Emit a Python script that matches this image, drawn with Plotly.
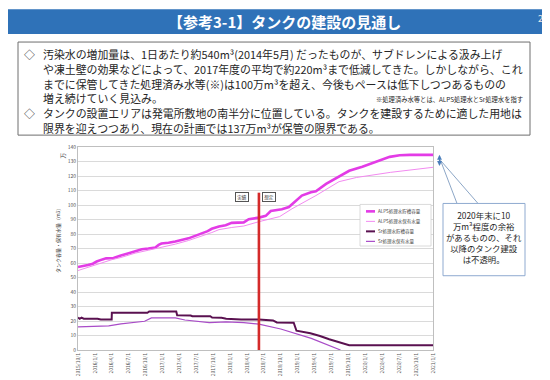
import plotly.graph_objects as go
import pandas as pd

# ---------------- data ----------------
alps_cap_dates = ["2015-10-01","2015-10-20","2015-11-24","2015-12-20","2016-01-10","2016-02-10","2016-03-01",
                  "2016-04-10","2016-05-01","2016-05-20","2016-07-01","2016-08-05","2016-09-10","2016-10-15",
                  "2016-11-22","2016-12-10","2016-12-25","2017-02-01","2017-03-10","2017-05-20","2017-08-01",
                  "2017-09-01","2017-09-23","2017-11-01","2017-12-07","2018-01-09","2018-03-15","2018-04-11",
                  "2018-06-05","2018-07-12","2018-08-08","2018-10-07","2018-11-14","2018-12-21","2019-01-23",
                  "2019-03-13","2019-04-09","2019-06-03","2019-08-12","2019-10-06","2019-12-16","2020-03-01",
                  "2020-05-12","2020-07-05","2020-08-29","2021-01-01"]
alps_cap_vals = [57.2,57.6,58.6,59.5,61.0,62.5,63.2,
                 63.5,64.5,65.2,66.8,68.2,69.5,70.0,
                 70.7,72.5,73.4,74.0,74.8,77.0,80.2,
                 82.0,83.6,85.2,86.1,87.7,88.0,90.2,
                 91.3,92.5,95.8,97.0,98.6,103.0,106.5,
                 108.8,109.5,114.5,119.5,123.6,126.4,129.8,
                 133.2,134.3,134.6,134.6]

alps_hold_dates = ["2015-10-01","2015-11-24","2016-01-01","2016-02-25","2016-04-01","2016-05-20","2016-08-05",
                   "2016-10-15","2016-12-25","2017-03-10","2017-05-20","2017-08-01","2017-09-23","2017-11-01",
                   "2017-12-07","2018-01-09","2018-03-15","2018-04-11","2018-06-05","2018-09-25","2018-12-01",
                   "2019-04-09","2019-08-12","2019-11-15","2020-05-15","2021-01-01"]
alps_hold_vals = [54.8,57.0,59.0,61.0,62.3,63.8,66.8,
                  68.8,70.8,73.0,75.5,78.5,81.0,83.0,
                  84.0,84.5,85.5,86.5,88.5,92.0,97.4,
                  106.5,116.1,119.0,122.5,126.0]

sr_cap_dates = ["2015-10-01","2015-10-10","2015-10-20","2015-11-01","2016-01-15","2016-02-01","2016-03-31",
                "2016-04-01","2016-10-10","2016-10-20","2017-03-15","2017-03-20","2017-06-01","2017-06-10",
                "2017-09-15","2017-09-25","2017-11-15","2017-12-10","2018-03-01","2018-06-05","2018-08-20",
                "2018-09-10","2018-12-10","2018-12-25","2019-03-10","2019-05-01","2019-06-20","2019-08-12",
                "2019-10-06","2021-01-01"]
sr_cap_vals = [22.5,21.5,22.3,21.6,21.6,21.0,21.0,
               25.7,25.7,26.6,26.6,24.0,23.8,23.3,
               23.3,22.4,22.2,21.6,21.1,21.0,20.4,
               19.0,18.8,13.3,11.5,9.7,7.4,5.6,
               3.3,3.3]

sr_hold_dates = ["2015-10-01","2016-01-01","2016-03-15","2016-05-20","2016-08-05","2016-09-25","2016-11-01",
                 "2017-03-10","2017-05-01","2017-09-10","2017-12-10","2018-03-15","2018-06-05","2018-10-01",
                 "2019-03-15","2019-08-20"]
sr_hold_vals = [15.9,16.2,16.6,18.0,18.9,19.8,22.1,
                22.1,20.7,18.9,19.4,18.9,17.8,14.5,
                8.0,0.0]

series_names = ["ALPS処理水貯槽容量", "ALPS処理水保有水量", "Sr処理水貯槽容量", "Sr処理水保有水量"]
tick_labels = ["2015/10/1","2016/1/1","2016/4/1","2016/7/1","2016/10/1","2017/1/1","2017/4/1","2017/7/1",
               "2017/10/1","2018/1/1","2018/4/1","2018/7/1","2018/10/1","2019/1/1","2019/4/1","2019/7/1",
               "2019/10/1","2020/1/1","2020/4/1","2020/7/1","2020/10/1","2021/1/1"]
boundary_date = "2018-06-05"
boundary_top = 108.5
margin_top_val = 134.6
margin_bot_val = 126.0

tick_vals = [pd.to_datetime(t, format="%Y/%m/%d").strftime("%Y-%m-%d") for t in tick_labels]

# ---------------- styling ----------------
JP = "Noto Sans CJK JP"
colors = ["#E33BE6", "#F28AF0", "#5A1150", "#A94CC8"]
widths = [2.6, 1.0, 2.0, 1.2]

W, H = 550, 380
L, R, T, B = 70, 125, 139, 36
PW, PH = W - L - R, H - T - B
YSCALE = PH / 140.0


def PX(x):
    return (x - L) / PW


def PY(y):
    return (H - B - y) / PH


fig = go.Figure()
for d, v, n, c, w in zip([alps_cap_dates, alps_hold_dates, sr_cap_dates, sr_hold_dates],
                         [alps_cap_vals, alps_hold_vals, sr_cap_vals, sr_hold_vals],
                         series_names, colors, widths):
    fig.add_trace(go.Scatter(x=d, y=v, name=n, mode="lines",
                             line=dict(color=c, width=w), showlegend=False))

shapes = []
annotations = []

# title bar
shapes.append(dict(type="rect", xref="paper", yref="paper", x0=PX(0), x1=PX(550), y0=PY(25), y1=PY(0),
                   fillcolor="#2F72B8", line=dict(width=0), layer="below"))
annotations.append(dict(xref="paper", yref="paper", x=PX(276), y=PY(12.5), text="<b>【参考3-1】タンクの建設の見通し</b>",
                        showarrow=False, font=dict(family=JP, size=15, color="white"), xanchor="center", yanchor="middle"))
annotations.append(dict(xref="paper", yref="paper", x=PX(535), y=PY(9), text="25",
                        showarrow=False, font=dict(family=JP, size=9, color="#E8E8E8"), xanchor="center", yanchor="middle"))

# text box
shapes.append(dict(type="rect", xref="paper", yref="paper", x0=PX(10), x1=PX(522), y0=PY(127), y1=PY(33),
                   fillcolor="white", line=dict(color="#6E6E6E", width=1), layer="below"))
BODY_FS = 10.9
body = [
    (45, "汚染水の増加量は、1日あたり約540m³(2014年5月) だったものが、サブドレンによる汲み上げ"),
    (60, "や凍土壁の効果などによって、2017年度の平均で約220m³まで低減してきた。しかしながら、これ"),
    (75, "までに保管してきた処理済み水等(※)は100万m³を超え、今後もペースは低下しつつあるものの"),
    (90, "増え続けていく見込み。"),
    (105, "タンクの設置エリアは発電所敷地の南半分に位置している。タンクを建設するために適した用地は"),
    (120, "限界を迎えつつあり、現在の計画では137万m³が保管の限界である。"),
]
for y, t in body:
    annotations.append(dict(xref="paper", yref="paper", x=PX(33), y=PY(y), text=t, showarrow=False,
                            font=dict(family=JP, size=BODY_FS, color="#262626"), xanchor="left", yanchor="middle"))
for y in [45, 105]:
    annotations.append(dict(xref="paper", yref="paper", x=PX(14), y=PY(y), text="◇", showarrow=False,
                            font=dict(family=JP, size=BODY_FS, color="#262626"), xanchor="left", yanchor="middle"))
annotations.append(dict(xref="paper", yref="paper", x=PX(517), y=PY(91), text="※処理済み水等とは、ALPS処理水とSr処理水を指す",
                        showarrow=False, font=dict(family=JP, size=6.3, color="#262626"), xanchor="right", yanchor="middle"))

# boundary red line and labels
shapes.append(dict(type="line", xref="x", yref="y", x0=boundary_date, x1=boundary_date, y0=0, y1=boundary_top,
                   line=dict(color="#D42A2A", width=2.6)))
for x, t in [(233.5, "実績"), (261, "想定")]:
    annotations.append(dict(xref="paper", yref="paper", x=PX(x), y=PY(189), text=t, showarrow=False,
                            font=dict(family=JP, size=4.5, color="#333"), bordercolor="#555", borderwidth=1,
                            bgcolor="white", width=11, height=7, borderpad=0.5, xanchor="center", yanchor="middle"))

# y axis title & unit
annotations.append(dict(xref="paper", yref="paper", x=PX(50), y=PY(233), text="タンク容量・保有水量（m3）",
                        showarrow=False, textangle=-90, font=dict(family=JP, size=5, color="#444"),
                        xanchor="center", yanchor="middle"))
annotations.append(dict(xref="paper", yref="paper", x=PX(54.5), y=PY(148), text="万",
                        showarrow=False, textangle=-90, font=dict(family=JP, size=5.5, color="#444"),
                        xanchor="center", yanchor="middle"))

# manual legend
shapes.append(dict(type="rect", xref="paper", yref="paper", x0=PX(352), x1=PX(423), y0=PY(239), y1=PY(197),
                   fillcolor="white", line=dict(color="#D0D0D0", width=0.8)))
for i, (n, c, w) in enumerate(zip(series_names, colors, widths)):
    yy = 204 + i * 10.1
    shapes.append(dict(type="line", xref="paper", yref="paper", x0=PX(358), x1=PX(367), y0=PY(yy), y1=PY(yy),
                       line=dict(color=c, width=w)))
    annotations.append(dict(xref="paper", yref="paper", x=PX(368), y=PY(yy), text=n, showarrow=False,
                            font=dict(family=JP, size=4.5, color="#444"), xanchor="left", yanchor="middle"))

# double arrow (margin)
annotations.append(dict(xref="paper", yref="y", x=PX(431.5), y=margin_top_val, ax=0,
                        ay=(margin_top_val - margin_bot_val) * YSCALE,
                        axref="pixel", ayref="pixel", text="", showarrow=True, arrowside="end+start",
                        arrowhead=2, startarrowhead=2, arrowsize=0.8, startarrowsize=0.8, arrowwidth=1.2,
                        arrowcolor="#4A7EBB"))

# callout pointer lines
for bx in [449, 470]:
    shapes.append(dict(type="line", xref="paper", yref="paper", x0=PX(432.5), y0=PY(152.5), x1=PX(bx), y1=PY(196),
                       line=dict(color="#7F9CC0", width=0.9)))
shapes.append(dict(type="rect", xref="paper", yref="paper", x0=PX(435), x1=PX(517), y0=PY(269), y1=PY(196),
                   fillcolor="white", line=dict(color="#8FAAD0", width=1)))
callout = ["2020年末に10", "万m³程度の余裕", "があるものの、それ", "以降のタンク建設", "は不透明。"]
annotations.append(dict(xref="paper", yref="paper", x=PX(476), y=PY(230), text="<br>".join(callout), showarrow=False,
                        align="center", font=dict(family=JP, size=8.4, color="#262626"),
                        xanchor="center", yanchor="middle"))

# right edge faint line
shapes.append(dict(type="line", xref="paper", yref="paper", x0=PX(548.5), x1=PX(548.5), y0=PY(380), y1=PY(28),
                   line=dict(color="#D8D8D8", width=1)))

fig.update_layout(
    width=W, height=H, margin=dict(l=L, r=R, t=T, b=B),
    paper_bgcolor="white", plot_bgcolor="white",
    font=dict(family=JP, color="#444"),
    shapes=shapes, annotations=annotations, showlegend=False,
    xaxis=dict(type="date", range=["2015-10-01", "2021-01-01"], tickvals=tick_vals, ticktext=tick_labels,
               tickangle=-90, tickfont=dict(size=5, color="#555"), showgrid=False, ticks="",
               showline=True, linecolor="#BFBFBF", linewidth=1, mirror=True, zeroline=False),
    yaxis=dict(range=[0, 140], dtick=10, tickfont=dict(size=5, color="#555"), showgrid=True,
               gridcolor="#DADADA", gridwidth=1, ticks="", showline=True, linecolor="#BFBFBF",
               linewidth=1, mirror=True, zeroline=False),
)

fig.write_html("out.html")
